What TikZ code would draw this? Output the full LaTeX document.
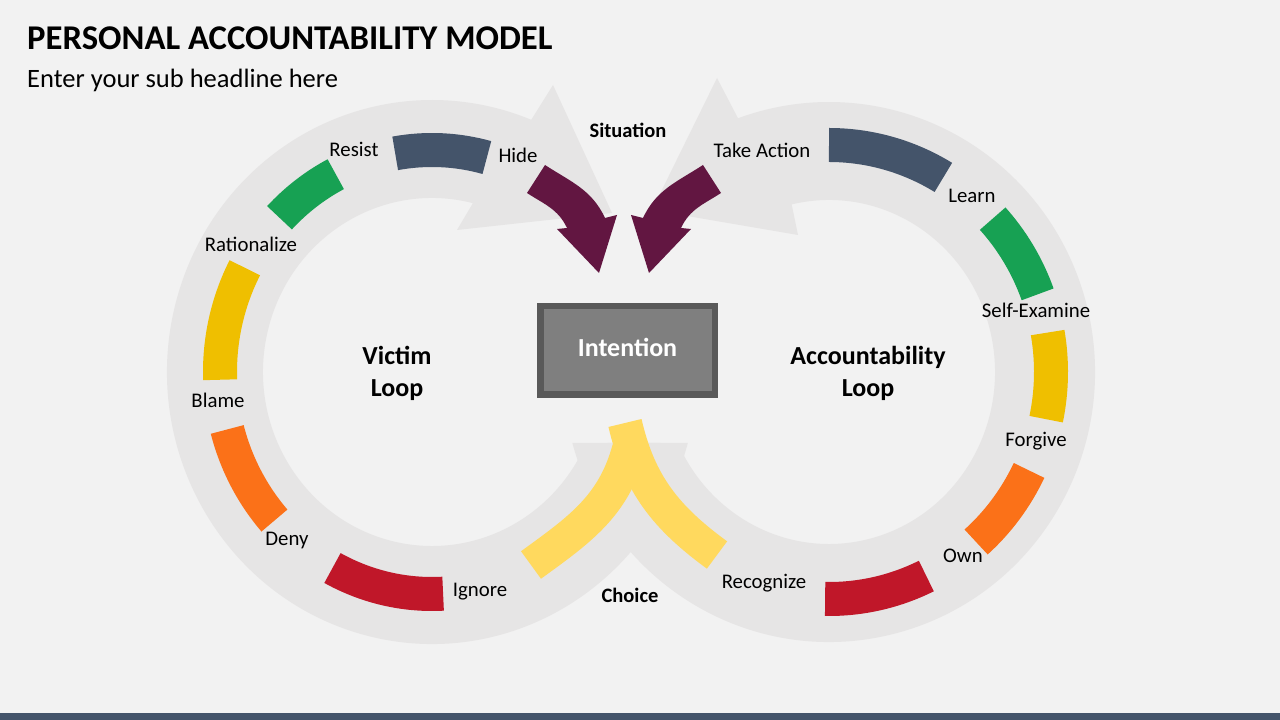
\documentclass[tikz,border=0pt]{standalone}
\usepackage{fontspec}
\setmainfont{Carlito}
\usepackage{xcolor}
\usepackage{tikz}
\usetikzlibrary{calc}

\definecolor{bgray}{HTML}{F2F2F2}
\definecolor{ringgray}{HTML}{E6E5E5}
\definecolor{slate}{HTML}{44546A}
\definecolor{leafgreen}{HTML}{17A153}
\definecolor{gold}{HTML}{EFBF00}
\definecolor{tangerine}{HTML}{FB7118}
\definecolor{crimson}{HTML}{C01729}
\definecolor{plum}{HTML}{621641}
\definecolor{butter}{HTML}{FFD95E}
\definecolor{boxedge}{HTML}{595959}
\definecolor{boxfill}{HTML}{7F7F7F}

\begin{document}
\begin{tikzpicture}[x=1pt,y=1pt]

	\tikzstyle{segment} = [line width=34pt]
	\tikzstyle{leg} = [butter,line width=34pt]
	\tikzstyle{stage} = [font=\fontsize{20.8}{24}\selectfont]
	\tikzstyle{keyword} = [font=\bfseries\fontsize{20.5}{24}\selectfont]
	\tikzstyle{loopname} = [font=\bfseries\fontsize{26}{32}\selectfont,align=center]
	\tikzstyle{headline} = [anchor=base west,inner sep=0pt]

	\useasboundingbox (0,0) rectangle (1280,720);
	\fill[bgray] (0,0) rectangle (1280,720);
	\fill[slate] (0,0) rectangle (1280,7.3);

	\coordinate (L) at (432,348);
	\coordinate (R) at (829,348);

	% victim ring
	\fill[ringgray] ([shift={(-15.1:265pt and 272pt)}]L) arc[start angle=-15.1,end angle=-292,x radius=265pt,y radius=272pt]
		-- (553,635) -- (612,507) -- (457,490)
		-- ([shift={(-284:169pt and 174pt)}]L) arc[start angle=-284,end angle=-24.1,x radius=169pt,y radius=174pt] -- cycle;

	% accountability ring
	\fill[ringgray] ([shift={(195.2:266pt and 270pt)}]R) arc[start angle=195.2,end angle=470,x radius=266pt,y radius=270pt]
		-- (717,642) -- (652,510) -- (798,485)
		-- ([shift={(463:166pt and 172pt)}]R) arc[start angle=463,end angle=204.4,x radius=166pt,y radius=172pt] -- cycle;

	\foreach \from/\to/\col in {75/100/slate,117/136/leafgreen,152/182/gold,195/222/tangerine,242/273/crimson}
		\draw[segment,\col] ([shift={(\from:212pt and 222pt)}]L) arc[start angle=\from,end angle=\to,x radius=212pt,y radius=222pt];

	\foreach \from/\to/\col in {59/90/slate,20/42.5/leafgreen,-12/10/gold,-48.5/-25.7/tangerine,-91/-64/crimson}
		\draw[segment,\col] ([shift={(\from:222pt and 227pt)}]R) arc[start angle=\from,end angle=\to,x radius=222pt,y radius=227pt];

	% choice
	\draw[leg] (531,155) to[out=36,in=-105] (629,271);
	\draw[leg] (717,165) to[out=143.8,in=-77] (625,297);

	% situation arrows
	\fill[plum] (545,555) to[out=-33,in=115] (605,502) -- (617,505) -- (599,447) -- (557,491)
		-- (567,492) to[out=115,in=-33] (527,527) -- cycle;
	\fill[plum] (703,555) to[out=-147,in=65] (643,502) -- (631,505) -- (649,447) -- (691,491)
		-- (681,492) to[out=65,in=-147] (721,527) -- cycle;

	\node[draw=boxedge,line width=6.5pt,fill=boxfill,minimum width=174.5pt,minimum height=88.5pt,text depth=6pt,
		text=white,font=\bfseries\fontsize{26}{30}\selectfont] (intention) at (627.5,369.5) {Intention};

	\node[headline,font=\bfseries\fontsize{34.7}{40}\selectfont] (title) at (27,670) {PERSONAL ACCOUNTABILITY MODEL};
	\node[headline,font=\fontsize{26.5}{30}\selectfont] (subtitle) at (27,632) {Enter your sub headline here};

	\node[loopname] (victim) at (397,347) {Victim\\Loop};
	\node[loopname] (account) at (868,347) {Accountability\\Loop};

	\node[keyword] (situation) at (628,590) {Situation};
	\node[keyword] (choice) at (630,125) {Choice};

	\node[stage] (resist) at (354,571) {Resist};
	\node[stage] (hide) at (518,565) {Hide};
	\node[stage] (rational) at (251,476) {Rationalize};
	\node[stage] (blame) at (218,320) {Blame};
	\node[stage] (deny) at (287,179) {Deny};
	\node[stage] (ignore) at (480,128) {Ignore};

	\node[stage] (action) at (762,570) {Take Action};
	\node[stage] (learn) at (972,524) {Learn};
	\node[stage] (examine) at (1036,410) {Self-Examine};
	\node[stage] (forgive) at (1036,279) {Forgive};
	\node[stage] (own) at (963,164) {Own};
	\node[stage] (recognize) at (764,137) {Recognize};

\end{tikzpicture}
\end{document}
